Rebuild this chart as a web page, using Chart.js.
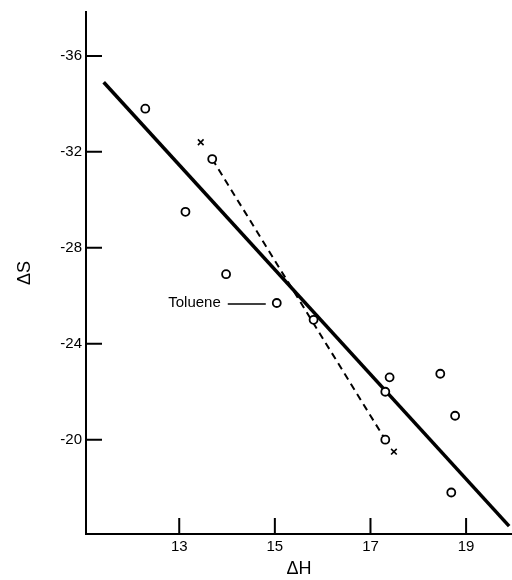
<!DOCTYPE html>
<html>
<head>
<meta charset="utf-8">
<script src="https://cdn.jsdelivr.net/npm/chart.js@4.4.0/dist/chart.umd.min.js"></script>
<style>
  html, body { margin: 0; padding: 0; background: #fff; }
  canvas { display: block; }
</style>
</head>
<body>
<canvas id="myChart" width="512" height="580"></canvas>
<script>
// measured points (open circles)
const dH = [12.29, 13.69, 13.13, 13.98, 15.04, 15.81, 17.40, 17.31, 18.46, 18.77, 17.31, 18.69];
const dS = [-33.8, -31.7, -29.5, -26.9, -25.7, -25.0, -22.6, -22.0, -22.75, -21.0, -20.0, -17.8];
// x marks
const crossH = [13.45, 17.49];
const crossS = [-32.4, -19.5];
// solid fitted line
const fitH = [11.42, 19.9];
const fitS = [-34.9, -16.4];
// dashed line
const dashH = [13.69, 17.31];
const dashS = [-31.7, -20.0];
// axis ticks
const xTicks = [13, 15, 17, 19];
const yTicks = [-36, -32, -28, -24, -20];
const labelIndex = 4; // Toluene

const toXY = (xs, ys) => xs.map((v, i) => ({ x: v, y: ys[i] }));
const font = 'Liberation Sans';

const innerTicks = {
    id: 'innerTicks',
    afterDraw(chart) {
        const { ctx, chartArea, scales: { x, y } } = chart;
        ctx.save();
        ctx.strokeStyle = '#000';
        ctx.lineWidth = 2;
        ctx.beginPath();
        x.ticks.forEach(t => {
            const px = x.getPixelForValue(t.value);
            ctx.moveTo(px, chartArea.bottom);
            ctx.lineTo(px, chartArea.bottom - 16);
        });
        y.ticks.forEach(t => {
            const py = y.getPixelForValue(t.value);
            ctx.moveTo(chartArea.left, py);
            ctx.lineTo(chartArea.left + 16, py);
        });
        ctx.stroke();

        // Toluene label with leader
        const px = x.getPixelForValue(dH[labelIndex]);
        const py = y.getPixelForValue(dS[labelIndex]);
        ctx.lineWidth = 1.5;
        ctx.beginPath();
        ctx.moveTo(px - 11, py + 1);
        ctx.lineTo(px - 49, py + 1);
        ctx.stroke();
        ctx.font = '15px "' + font + '"';
        ctx.textAlign = 'right';
        ctx.textBaseline = 'middle';
        ctx.fillStyle = '#000';
        ctx.fillText('Toluene', px - 56, py);
        ctx.restore();
    }
};

const ctx = document.getElementById('myChart').getContext('2d');
new Chart(ctx, {
    type: 'scatter',
    data: {
        datasets: [
            {
                label: 'points',
                data: toXY(dH, dS),
                pointRadius: 4,
                borderWidth: 1.8,
                borderColor: '#000',
                backgroundColor: '#fff'
            },
            {
                label: 'x',
                data: toXY(crossH, crossS),
                pointStyle: 'crossRot',
                pointRadius: 4,
                borderWidth: 1.6,
                borderColor: '#000'
            },
            {
                label: 'dashed',
                data: toXY(dashH, dashS),
                showLine: true,
                borderDash: [7, 5],
                borderWidth: 2,
                borderColor: '#000',
                pointRadius: 0
            },
            {
                label: 'fit',
                data: toXY(fitH, fitS),
                showLine: true,
                borderWidth: 3.5,
                borderColor: '#000',
                pointRadius: 0
            }
        ]
    },
    options: {
        responsive: false,
        animation: false,
        layout: { autoPadding: false, padding: { top: 12, right: 0, left: 0, bottom: 0 } },
        plugins: { legend: { display: false }, tooltip: { enabled: false } },
        scales: {
            x: {
                type: 'linear',
                min: 11.05,
                max: 19.96,
                afterBuildTicks: s => { s.ticks = xTicks.map(v => ({ value: v })); },
                afterFit: s => { s.height = 46; s.paddingLeft = 0; s.paddingRight = 0; },
                grid: { display: false, drawTicks: false },
                border: { display: true, color: '#000', width: 2 },
                ticks: { color: '#000', padding: 4, font: { family: font, size: 15 } },
                title: {
                    display: true,
                    text: 'ΔH',
                    color: '#000',
                    padding: { top: 0, bottom: 0 },
                    font: { family: font, size: 18 }
                }
            },
            y: {
                type: 'linear',
                reverse: true,
                min: -37.83,
                max: -16.07,
                afterBuildTicks: s => { s.ticks = yTicks.map(v => ({ value: v })); },
                afterFit: s => { s.width = 86; s.paddingTop = 0; s.paddingBottom = 0; },
                grid: { display: false, drawTicks: false },
                border: { display: true, color: '#000', width: 2 },
                ticks: { color: '#000', padding: 4, font: { family: font, size: 15 } },
                title: {
                    display: true,
                    text: 'ΔS',
                    color: '#000',
                    padding: { top: 14, bottom: 0 },
                    font: { family: font, size: 18 }
                }
            }
        }
    },
    plugins: [innerTicks]
});
</script>
</body>
</html>
